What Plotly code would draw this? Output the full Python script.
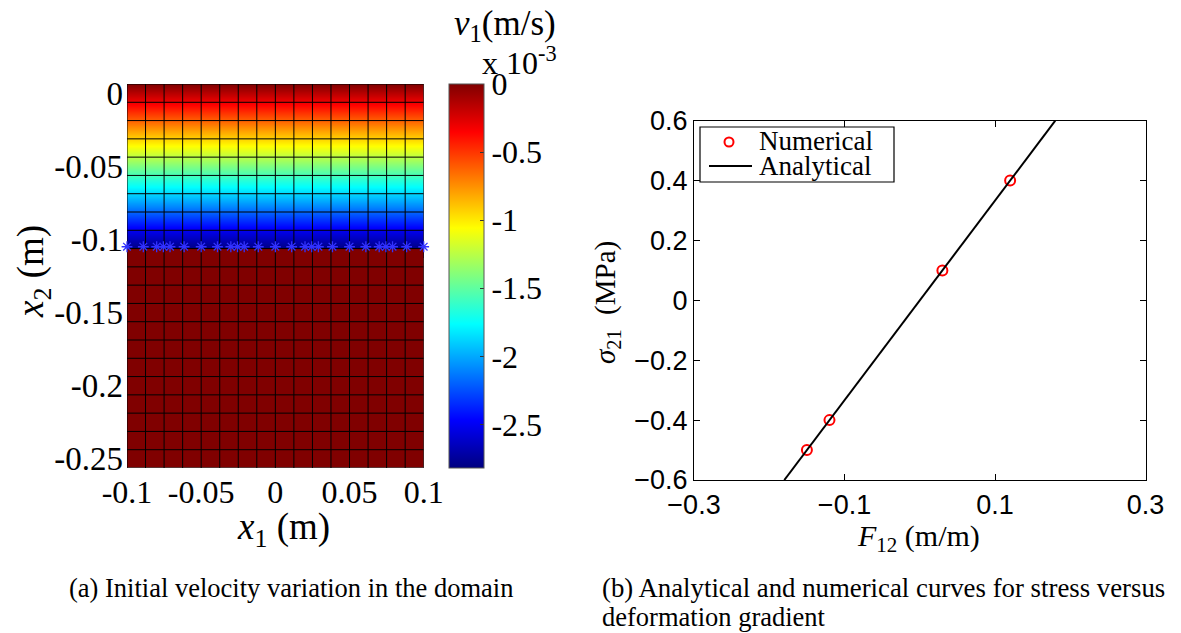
import plotly.graph_objects as go

W, H = 1181, 633

# ---------------- data: panel (a) ----------------
# mesh cell edges (m)
x_edges = [-0.1, -0.0875, -0.075, -0.0625, -0.05, -0.0375, -0.025, -0.0125, 0.0,
           0.0125, 0.025, 0.0375, 0.05, 0.0625, 0.075, 0.0875, 0.1]
y_edges = [0.00625, -0.00625, -0.01875, -0.03125, -0.04375, -0.05625, -0.06875,
           -0.08125, -0.09375, -0.10625, -0.11875, -0.13125, -0.14375, -0.15625,
           -0.16875, -0.18125, -0.19375, -0.20625, -0.21875, -0.23125, -0.24375, -0.25625]
# nodal velocity v1 (x 1e-3 m/s) in the loaded upper band (nodes y_edges[0..9])
v_upper_nodes = [0.0, -0.31, -0.63, -0.94, -1.25, -1.57, -1.88, -2.19, -2.51, -2.82]
# cell velocity in the lower part (rows y_edges[9..21])
v_lower_cells = [0.0, 0.0, 0.0, 0.0, 0.0, 0.0, 0.0, 0.0, 0.0, 0.0, 0.0, 0.0]
# marked points along the interface
star_x = [-0.1, -0.089, -0.08, -0.0755, -0.071, -0.0615, -0.05, -0.039, -0.03, -0.0255,
          -0.021, -0.0115, 0.0, 0.011, 0.02, 0.0245, 0.029, 0.0385, 0.05, 0.061, 0.07,
          0.0745, 0.079, 0.0885, 0.1]
star_y = -0.105
cb_ticks = [0, -0.5, -1, -1.5, -2, -2.5]
cb_ticktext = ["0", "-0.5", "-1", "-1.5", "-2", "-2.5"]
xa_ticks = [-0.1, -0.05, 0, 0.05, 0.1]
xa_ticktext = ["-0.1", "-0.05", "0", "0.05", "0.1"]
ya_ticks = [0, -0.05, -0.1, -0.15, -0.2, -0.25]
ya_ticktext = ["0", "-0.05", "-0.1", "-0.15", "-0.2", "-0.25"]

# ---------------- data: panel (b) ----------------
F_num = [-0.15, -0.12, 0.03, 0.12]
sig_num = [-0.5, -0.4, 0.1, 0.4]
F_ana = [-0.18, -0.1, 0.0, 0.1, 0.18]
sig_ana = [-0.6, -0.3333, 0.0, 0.3333, 0.6]
xb_ticks = [-0.3, -0.1, 0.1, 0.3]
yb_ticks = [-0.6, -0.4, -0.2, 0, 0.2, 0.4, 0.6]

jet = [[0.0, "rgb(0,0,128)"], [0.125, "rgb(0,0,255)"], [0.375, "rgb(0,255,255)"],
       [0.625, "rgb(255,255,0)"], [0.875, "rgb(255,0,0)"], [1.0, "rgb(128,0,0)"]]

ncol = len(x_edges) - 1
x_cent = [(x_edges[i] + x_edges[i + 1]) / 2 for i in range(ncol)]

fig = go.Figure()

# upper band: nodal values, smoothly interpolated
fig.add_trace(go.Heatmap(
    x=x_cent, y=y_edges[:len(v_upper_nodes)],
    z=[[v] * ncol for v in v_upper_nodes],
    zsmooth="best", coloraxis="coloraxis", xaxis="x", yaxis="y",
    hoverinfo="skip"))
# lower part: cell values
y_low = [(y_edges[9 + i] + y_edges[10 + i]) / 2 for i in range(len(v_lower_cells))]
fig.add_trace(go.Heatmap(
    x=x_cent, y=y_low,
    z=[[v] * ncol for v in v_lower_cells],
    coloraxis="coloraxis", xaxis="x", yaxis="y", hoverinfo="skip"))

# mesh lines
gx, gy = [], []
for xe in x_edges:
    gx += [xe, xe, None]
    gy += [y_edges[0], y_edges[-1], None]
for ye in y_edges:
    gx += [x_edges[0], x_edges[-1], None]
    gy += [ye, ye, None]
fig.add_trace(go.Scatter(x=gx, y=gy, mode="lines", line=dict(color="black", width=1),
                         xaxis="x", yaxis="y", showlegend=False, hoverinfo="skip"))
# stars
fig.add_trace(go.Scatter(x=star_x, y=[star_y] * len(star_x), mode="markers",
                         marker=dict(symbol="asterisk-open", size=9, color="rgb(50,50,255)",
                                     line=dict(color="rgb(50,50,255)", width=1.3)),
                         cliponaxis=False, xaxis="x", yaxis="y", showlegend=False))

# panel (b)
fig.add_trace(go.Scatter(x=F_num, y=sig_num, mode="markers", name="Numerical",
                         marker=dict(symbol="circle-open", size=10, color="red",
                                     line=dict(color="red", width=2)),
                         xaxis="x2", yaxis="y2", showlegend=False))
fig.add_trace(go.Scatter(x=F_ana, y=sig_ana, mode="lines", name="Analytical",
                         line=dict(color="black", width=2),
                         xaxis="x2", yaxis="y2", showlegend=False))

serif = "Liberation Serif, Times New Roman, serif"
sans = "Liberation Sans, Arial, sans-serif"

def px_x(p):
    return p / W

def px_y(p):
    return 1 - p / H

fig.update_layout(
    width=W, height=H, autosize=False,
    margin=dict(l=0, r=0, t=0, b=0, pad=0, autoexpand=False),
    paper_bgcolor="white", plot_bgcolor="white",
    showlegend=False,
    coloraxis=dict(
        colorscale=jet, cmin=-2.82, cmax=0,
        colorbar=dict(
            x=px_x(449), xanchor="left", y=px_y(468), yanchor="bottom",
            len=384 / H, lenmode="fraction", thickness=35, thicknessmode="pixels",
            xpad=0, ypad=0, outlinewidth=1, outlinecolor="#555",
            tickvals=cb_ticks, ticktext=cb_ticktext, ticks="inside", ticklen=4,
            tickcolor="#333", tickfont=dict(family=serif, size=32, color="black"))),
    xaxis=dict(domain=[px_x(127), px_x(423.7)], range=[-0.1, 0.1],
               tickvals=xa_ticks, ticktext=xa_ticktext, ticks="",
               showgrid=False, zeroline=False, showline=False, automargin=False,
               tickfont=dict(family=serif, size=32, color="black"),
               ticklabelstandoff=2, anchor="y"),
    yaxis=dict(domain=[px_y(468), px_y(84)], range=[-0.25625, 0.00625],
               tickvals=ya_ticks, ticktext=ya_ticktext, ticks="",
               showgrid=False, zeroline=False, showline=False, automargin=False,
               tickfont=dict(family=serif, size=33, color="black"),
               ticklabelstandoff=3, anchor="x"),
    xaxis2=dict(domain=[px_x(694), px_x(1145.6)], range=[-0.3, 0.3],
                tickvals=xb_ticks, ticks="inside", ticklen=6,
                mirror="ticks", showline=True, linecolor="black", linewidth=1,
                tickcolor="black", showgrid=False, zeroline=False, automargin=False,
                tickfont=dict(family=sans, size=27, color="black"),
                ticklabelstandoff=1, anchor="y2"),
    yaxis2=dict(domain=[px_y(480), px_y(120.7)], range=[-0.6, 0.6],
                tickvals=yb_ticks, ticks="inside", ticklen=6,
                mirror="ticks", showline=True, linecolor="black", linewidth=1,
                tickcolor="black", showgrid=False, zeroline=False, automargin=False,
                tickfont=dict(family=sans, size=27, color="black"),
                ticklabelstandoff=0, anchor="x2"),
)

ann = []
def A(text, x, y, size, rot=0, xanchor="center", yanchor="middle", family=serif):
    ann.append(dict(text=text, x=px_x(x), y=px_y(y), xref="paper", yref="paper",
                    showarrow=False, xanchor=xanchor, yanchor=yanchor, textangle=rot,
                    font=dict(family=family, size=size, color="black")))

A("<i>v</i><sub>1</sub>(m/s)", 505, 25, 35)
A("x 10<sup>-3</sup>", 519, 61, 32)
A("<i>x</i><sub>1</sub> (m)", 283, 529, 37)
A("<i>x</i><sub>2</sub> (m)", 33, 272, 37, rot=-90)
A("<i>F</i><sub>12</sub> (m/m)", 918, 538, 30)
A("<i>σ</i><sub>21</sub>  (MPa)", 607, 303, 29, rot=-90)
A("(a) Initial velocity variation in the domain", 67, 588, 26.5, xanchor="left")
A("(b) Analytical and numerical curves for stress versus", 600, 588, 26.8, xanchor="left")
A("deformation gradient", 600, 617, 26.5, xanchor="left")

# legend box (panel b)
A("Numerical", 757, 141, 27, xanchor="left")
A("Analytical", 757, 166, 27, xanchor="left")
shapes = [
    dict(type="rect", xref="paper", yref="paper", x0=px_x(700), x1=px_x(894),
         y0=px_y(182), y1=px_y(127), line=dict(color="black", width=1.2),
         fillcolor="white", layer="above"),
    dict(type="circle", xref="paper", yref="paper", x0=px_x(724.5), x1=px_x(733.5),
         y0=px_y(146.5), y1=px_y(137.5), line=dict(color="red", width=2), layer="above"),
    dict(type="line", xref="paper", yref="paper", x0=px_x(709), x1=px_x(752),
         y0=px_y(166), y1=px_y(166), line=dict(color="black", width=2), layer="above"),
]
fig.update_layout(annotations=ann, shapes=shapes)

fig.write_html("out.html")
